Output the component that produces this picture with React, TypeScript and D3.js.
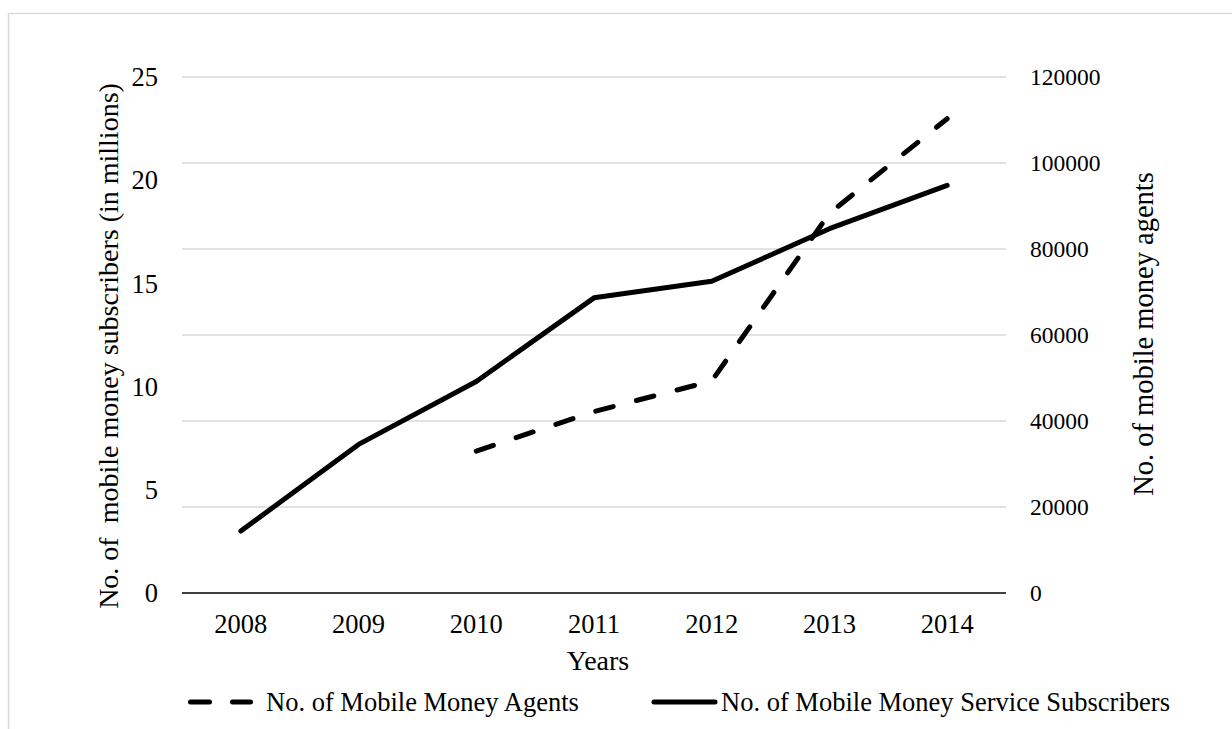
import React from 'react';
import * as d3 from 'd3';

const years = ['2008', '2009', '2010', '2011', '2012', '2013', '2014'];
const subscribers: number[] = [3.0, 7.2, 10.25, 14.3, 15.1, 17.65, 19.75];
const agents: (number | null)[] = [null, null, 33000, 42200, 49300, 88300, 110300];
const leftTicks = [0, 5, 10, 15, 20, 25];
const rightTicks = [0, 20000, 40000, 60000, 80000, 100000, 120000];

const FONT = '"Liberation Serif", "Times New Roman", serif';

export default function App() {
  const left = 182, right = 1006, top = 77, bottom = 593;
  const x = d3.scaleBand<string>().domain(years).range([left, right]);
  const cx = (y: string) => (x(y) as number) + x.bandwidth() / 2;
  const yL = d3.scaleLinear().domain([0, 25]).range([bottom, top]);
  const yR = d3.scaleLinear().domain([0, 120000]).range([bottom, top]);

  const solidLine = d3.line<number>().x((_, i) => cx(years[i])).y((d) => yL(d))(subscribers) as string;
  const agentPts = agents
    .map((v, i) => ({ v, yr: years[i] }))
    .filter((d) => d.v !== null) as { v: number; yr: string }[];
  const dashLine = d3.line<{ v: number; yr: string }>().x((d) => cx(d.yr)).y((d) => yR(d.v))(agentPts) as string;

  return (
    <svg
      width={1232}
      height={729}
      style={{ position: 'absolute', left: 0, top: 0, background: '#fff' }}
      fontFamily={FONT}
    >
      <rect x={0} y={0} width={1232} height={729} fill="#fff" />
      {/* frame */}
      <path d="M8.5,740 L8.5,13.5 L1250,13.5" fill="none" stroke="#d9d9d9" strokeWidth={1.5} />

      {/* gridlines */}
      {rightTicks.slice(1).map((t) => (
        <line key={t} x1={left} x2={right} y1={yR(t)} y2={yR(t)} stroke="#d9d9d9" strokeWidth={1.3} />
      ))}
      <line x1={left} x2={right} y1={bottom} y2={bottom} stroke="#000" strokeWidth={1.6} />

      {/* left ticks */}
      {leftTicks.map((t) => (
        <text key={t} x={158} y={yL(t)} dy="0.35em" textAnchor="end" fontSize={26.5} fill="#000">
          {t}
        </text>
      ))}
      {/* right ticks */}
      {rightTicks.map((t) => (
        <text key={t} x={1030} y={yR(t)} dy="0.35em" textAnchor="start" fontSize={23.5} fill="#000">
          {t}
        </text>
      ))}
      {/* x ticks */}
      {years.map((yr) => (
        <text key={yr} x={cx(yr)} y={633} textAnchor="middle" fontSize={26.5} fill="#000">
          {yr}
        </text>
      ))}

      {/* axis titles */}
      <text
        transform={`translate(118,${346}) rotate(-90)`}
        textAnchor="middle"
        fontSize={28}
        fill="#000"
        style={{ whiteSpace: 'pre' }}
      >
        {'No. of  mobile money subscribers (in millions)'}
      </text>
      <text transform={`translate(1153,${334}) rotate(-90)`} textAnchor="middle" fontSize={28.5} fill="#000">
        No. of mobile money agents
      </text>
      <text x={598} y={670} textAnchor="middle" fontSize={28} fill="#000">
        Years
      </text>

      {/* series */}
      <path d={solidLine} fill="none" stroke="#000" strokeWidth={5} strokeLinejoin="round" strokeLinecap="round" />
      <path
        d={dashLine}
        fill="none"
        stroke="#000"
        strokeWidth={5}
        strokeDasharray="18,24"
        strokeLinejoin="round"
        strokeLinecap="round"
      />

      {/* legend */}
      <line x1={190.5} x2={250.5} y1={702} y2={702} stroke="#000" strokeWidth={5} strokeDasharray="19,23" strokeLinecap="round" />
      <text x={266} y={711} fontSize={26.5} fill="#000">
        No. of Mobile Money Agents
      </text>
      <line x1={654} x2={715} y1={702} y2={702} stroke="#000" strokeWidth={5} strokeLinecap="round" />
      <text x={721} y={711} fontSize={26.5} fill="#000">
        No. of Mobile Money Service Subscribers
      </text>
    </svg>
  );
}
